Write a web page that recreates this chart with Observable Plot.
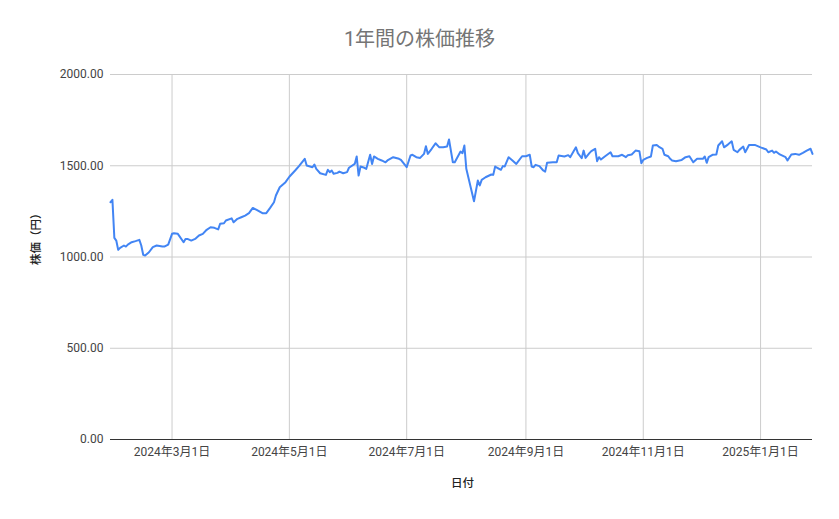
<!DOCTYPE html>
<html>
<head>
<meta charset="utf-8">
<script src="https://cdn.jsdelivr.net/npm/d3@7"></script>
<script src="https://cdn.jsdelivr.net/npm/@observablehq/plot@0.6"></script>
<style>
  body { margin: 0; background: #fff; font-family: Roboto, "Noto Sans CJK JP", sans-serif; }
  #title { height: 60px; width: 839px; text-align: center; font-size: 20px; line-height: 20px; padding-top: 0; box-sizing: border-box; color: #757575; position: relative; }
  #title span { position: absolute; left: 0; right: 0; top: 29px; }
  #chart svg { display: block; }
</style>
</head>
<body>
<div id="title"><span>1年間の株価推移</span></div>
<div id="chart"></div>
<script>
const dates = [
  "2024-01-29","2024-01-30","2024-01-31","2024-02-01","2024-02-02","2024-02-03","2024-02-05","2024-02-06","2024-02-07","2024-02-09",
  "2024-02-11","2024-02-13","2024-02-14","2024-02-15","2024-02-16","2024-02-18","2024-02-20","2024-02-22","2024-02-25","2024-02-26",
  "2024-02-28","2024-03-01","2024-03-02","2024-03-04","2024-03-05","2024-03-07","2024-03-08","2024-03-09","2024-03-11","2024-03-13",
  "2024-03-15","2024-03-17","2024-03-19","2024-03-21","2024-03-23","2024-03-25","2024-03-26","2024-03-28","2024-03-29","2024-04-01",
  "2024-04-02","2024-04-04","2024-04-06","2024-04-08","2024-04-10","2024-04-12","2024-04-14","2024-04-17","2024-04-19","2024-04-21",
  "2024-04-23","2024-04-24","2024-04-26","2024-04-29","2024-05-01","2024-05-04","2024-05-06","2024-05-09","2024-05-10","2024-05-13",
  "2024-05-14","2024-05-15","2024-05-17","2024-05-20","2024-05-21","2024-05-22","2024-05-23","2024-05-24","2024-05-26","2024-05-27",
  "2024-05-29","2024-05-31","2024-06-01","2024-06-04","2024-06-05","2024-06-06","2024-06-07","2024-06-09","2024-06-10","2024-06-12",
  "2024-06-13","2024-06-14","2024-06-16","2024-06-18","2024-06-20","2024-06-21","2024-06-24","2024-06-27","2024-06-28","2024-07-01",
  "2024-07-03","2024-07-04","2024-07-06","2024-07-08","2024-07-10","2024-07-11","2024-07-12","2024-07-14","2024-07-16","2024-07-18",
  "2024-07-20","2024-07-22","2024-07-23","2024-07-25","2024-07-26","2024-07-29","2024-07-30","2024-07-31","2024-08-01","2024-08-05",
  "2024-08-07","2024-08-08","2024-08-09","2024-08-11","2024-08-14","2024-08-15","2024-08-16","2024-08-17","2024-08-19","2024-08-20",
  "2024-08-21","2024-08-23","2024-08-25","2024-08-27","2024-08-30","2024-09-01","2024-09-03","2024-09-04","2024-09-05","2024-09-06",
  "2024-09-08","2024-09-10","2024-09-11","2024-09-12","2024-09-15","2024-09-17","2024-09-18","2024-09-21","2024-09-23","2024-09-24",
  "2024-09-27","2024-09-28","2024-09-30","2024-10-01","2024-10-02","2024-10-04","2024-10-05","2024-10-07","2024-10-08","2024-10-09",
  "2024-10-10","2024-10-12","2024-10-15","2024-10-16","2024-10-19","2024-10-21","2024-10-23","2024-10-24","2024-10-26","2024-10-28",
  "2024-10-30","2024-10-31","2024-11-01","2024-11-03","2024-11-05","2024-11-06","2024-11-08","2024-11-09","2024-11-11","2024-11-12",
  "2024-11-14","2024-11-15","2024-11-16","2024-11-18","2024-11-21","2024-11-23","2024-11-25","2024-11-27","2024-11-29","2024-12-02",
  "2024-12-03","2024-12-04","2024-12-05","2024-12-07","2024-12-09","2024-12-10","2024-12-12","2024-12-13","2024-12-15","2024-12-17",
  "2024-12-18","2024-12-20","2024-12-21","2024-12-23","2024-12-24","2024-12-25","2024-12-26","2024-12-29","2025-01-01","2025-01-04",
  "2025-01-05","2025-01-07","2025-01-08","2025-01-09","2025-01-11","2025-01-14","2025-01-15","2025-01-17","2025-01-19","2025-01-21",
  "2025-01-23","2025-01-25","2025-01-27","2025-01-28"
];
const prices = [
  1300,1313,1105,1090,1039,1050,1063,1057,1068,1081,
  1087,1094,1063,1012,1008,1026,1054,1063,1057,1057,
  1068,1127,1130,1127,1112,1081,1099,1099,1090,1099,
  1118,1127,1149,1163,1160,1151,1182,1185,1200,1212,
  1190,1209,1218,1227,1240,1269,1258,1240,1240,1269,
  1300,1337,1382,1410,1440,1474,1498,1538,1501,1492,
  1507,1483,1459,1450,1478,1465,1474,1456,1461,1468,
  1459,1465,1489,1510,1551,1446,1496,1489,1483,1560,
  1510,1551,1538,1529,1519,1529,1547,1538,1532,1492,
  1556,1560,1547,1543,1565,1607,1565,1593,1623,1601,
  1601,1605,1644,1519,1519,1578,1569,1611,1483,1305,
  1419,1392,1423,1437,1452,1450,1496,1489,1478,1498,
  1496,1547,1529,1510,1552,1552,1560,1496,1492,1505,
  1498,1474,1468,1516,1519,1519,1556,1551,1558,1547,
  1601,1569,1541,1583,1543,1569,1580,1593,1525,1547,
  1534,1551,1574,1552,1552,1560,1547,1558,1562,1583,
  1580,1514,1532,1543,1551,1611,1614,1605,1593,1560,
  1552,1538,1529,1525,1532,1547,1552,1519,1538,1538,
  1551,1516,1547,1560,1562,1611,1634,1601,1616,1634,
  1587,1574,1587,1605,1574,1593,1614,1614,1601,1589,
  1574,1583,1571,1578,1562,1547,1529,1562,1565,1560,
  1571,1583,1593,1565
];
const yTicks = [0, 500, 1000, 1500, 2000];
const xTickDates = ["2024-03-01","2024-05-01","2024-07-01","2024-09-01","2024-11-01","2025-01-01"];
const yLabel = "株価（円）";
const xLabel = "日付";

const data = dates.map((d, i) => ({date: new Date(d), price: prices[i]}));
const xTicks = xTickDates.map(d => new Date(d));
const fmtDate = d => `${d.getUTCFullYear()}年${d.getUTCMonth() + 1}月${d.getUTCDate()}日`;

const chart = Plot.plot({
  width: 839,
  height: 459,
  marginTop: 14,
  marginLeft: 110,
  marginRight: 27,
  marginBottom: 80,
  style: {fontFamily: 'Roboto, "Noto Sans CJK JP", sans-serif', fontSize: "12px", color: "#444", background: "#fff", overflow: "visible"},
  x: {type: "utc", domain: [data[0].date, data[data.length - 1].date]},
  y: {domain: [0, 2000]},
  marks: [
    Plot.gridY(yTicks, {stroke: "#ccc", strokeOpacity: 1, strokeWidth: 1}),
    Plot.gridX(xTicks, {stroke: "#ccc", strokeOpacity: 1, strokeWidth: 1}),
    Plot.axisY(yTicks, {tickFormat: d => d.toFixed(2), tickSize: 0, tickPadding: 7, label: null, fill: "#444"}),
    Plot.axisX(xTicks, {tickFormat: fmtDate, tickSize: 0, tickPadding: 8, label: null, fill: "#444"}),
    Plot.ruleY([0], {stroke: "#333", strokeWidth: 1}),
    Plot.lineY(data, {x: "date", y: "price", stroke: "#4285f4", strokeWidth: 2, strokeLinejoin: "round"}),
    Plot.text([yLabel], {text: d => d, frameAnchor: "left", dx: -74, dy: 8, rotate: -90, fill: "#222", fontSize: 11.5, fontWeight: 500}),
    Plot.text([xLabel], {text: d => d, frameAnchor: "bottom", dy: 47, dx: 1, fill: "#222", fontSize: 11.5, fontWeight: 500})
  ]
});
document.getElementById("chart").appendChild(chart);
</script>
</body>
</html>
